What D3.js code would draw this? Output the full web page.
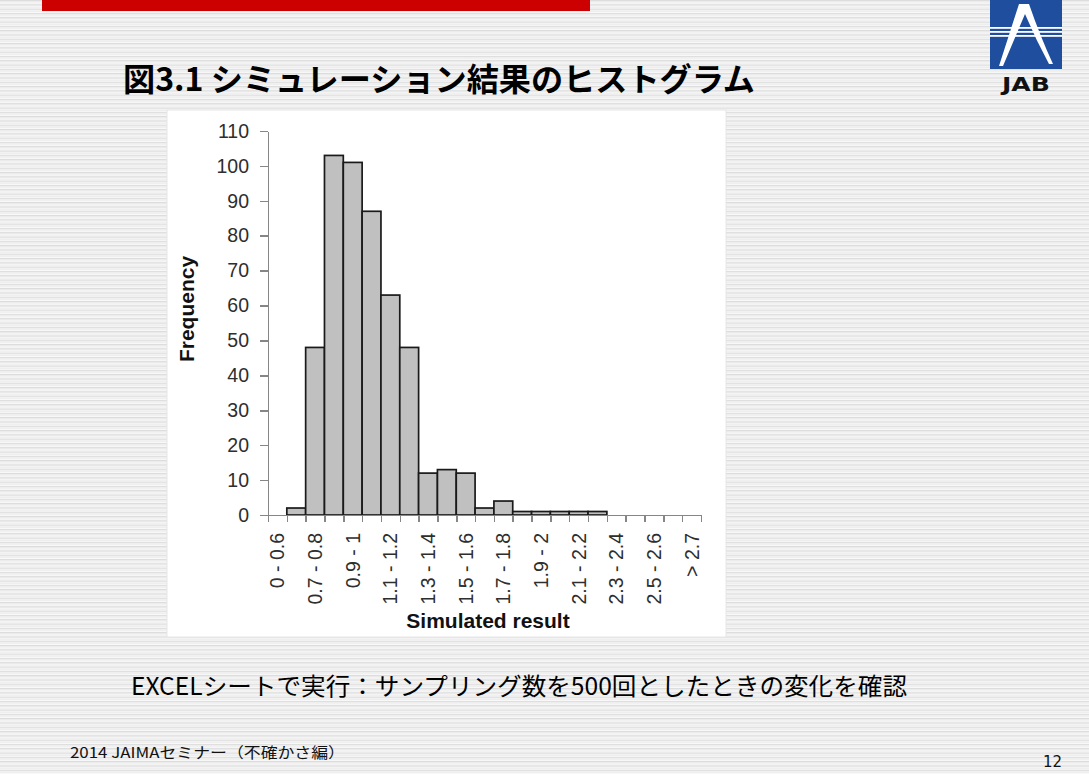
<!DOCTYPE html>
<html lang="ja">
    <head>
        <meta charset="utf-8">
        <title>シミュレーション結果のヒストグラム</title>
        <style type="text/css">
            body {
                margin: 0;
                padding: 0;
                background: #ffffff;
            }
            .axis path, .axis line {
                stroke: #868686;
                stroke-width: 1.5;
                shape-rendering: crispEdges;
            }
            .axis text {
                font-family: "Liberation Sans", Arial, sans-serif;
                font-size: 19.5px;
                fill: #2e2e2e;
            }
        </style>
        <script type="text/javascript" src="https://cdn.jsdelivr.net/npm/d3@7"></script>
    </head>
    <body>
        <script type="text/javascript">
            //data
            var categories = ["0 - 0.6", "0.6 - 0.7", "0.7 - 0.8", "0.8 - 0.9", "0.9 - 1", "1 - 1.1",
                              "1.1 - 1.2", "1.2 - 1.3", "1.3 - 1.4", "1.4 - 1.5", "1.5 - 1.6", "1.6 - 1.7",
                              "1.7 - 1.8", "1.8 - 1.9", "1.9 - 2", "2 - 2.1", "2.1 - 2.2", "2.2 - 2.3",
                              "2.3 - 2.4", "2.4 - 2.5", "2.5 - 2.6", "2.6 - 2.7", "> 2.7"];
            var frequency = [0, 2, 48, 103, 101, 87, 63, 48, 12, 13, 12, 2, 4, 1, 1, 1, 1, 1, 0, 0, 0, 0, 0];
            var yTicks = [0, 10, 20, 30, 40, 50, 60, 70, 80, 90, 100, 110];
            //only every other category gets a label
            var shownLabels = ["0 - 0.6", "0.7 - 0.8", "0.9 - 1", "1.1 - 1.2", "1.3 - 1.4", "1.5 - 1.6",
                               "1.7 - 1.8", "1.9 - 2", "2.1 - 2.2", "2.3 - 2.4", "2.5 - 2.6", "> 2.7"];

            var titleText = "図3.1  シミュレーション結果のヒストグラム";
            var captionText = "EXCELシートで実行：サンプリング数を500回としたときの変化を確認";
            var footerText = "2014 JAIMAセミナー（不確かさ編）";
            var pageNo = "12";

            var W = 1089, H = 774;
            var plot = {left: 268, right: 701, top: 131, bottom: 515};

            var svg = d3.select("body").append("svg")
                        .attr("width", W)
                        .attr("height", H);

            //striped slide background
            var pat = svg.append("defs").append("pattern")
                         .attr("id", "stripes")
                         .attr("patternUnits", "userSpaceOnUse")
                         .attr("width", 8)
                         .attr("height", 4.3);
            pat.append("rect").attr("width", 8).attr("height", 4.3).attr("fill", "#f9f9f9");
            pat.append("rect").attr("y", 0).attr("width", 8).attr("height", 1.3).attr("fill", "#dcdcdc");
            pat.append("rect").attr("y", 2.3).attr("width", 8).attr("height", 0.9).attr("fill", "#ebebeb");

            svg.append("rect")
               .attr("width", W)
               .attr("height", H)
               .attr("fill", "url(#stripes)");

            //red bar at top
            svg.append("rect")
               .attr("x", 42)
               .attr("y", 0)
               .attr("width", 548)
               .attr("height", 11)
               .attr("fill", "#cc0000");

            //JAB logo
            var logo = svg.append("g");
            logo.append("rect")
                .attr("x", 990).attr("y", 0)
                .attr("width", 72).attr("height", 69)
                .attr("fill", "#1f4e9e");
            [27, 31, 35].forEach(function(y) {
                logo.append("rect")
                    .attr("x", 990).attr("y", y)
                    .attr("width", 72).attr("height", 1.8)
                    .attr("fill", "#ffffff");
            });
            logo.append("path")
                .attr("d", "M999,66 L1019,4 L1029,4 Q1040,36 1053,64 L1049,64 Q1036,40 1025,14 L1003,66 Z")
                .attr("fill", "#ffffff");
            logo.append("text")
                .attr("x", 1026)
                .attr("y", 91)
                .attr("text-anchor", "middle")
                .attr("textLength", 48)
                .attr("lengthAdjust", "spacingAndGlyphs")
                .style("font-family", "'DejaVu Sans', sans-serif")
                .style("font-weight", "bold")
                .style("font-size", "20px")
                .attr("fill", "#111111")
                .text("JAB");

            //title
            svg.append("text")
               .attr("x", 123)
               .attr("y", 91)
               .attr("textLength", 632)
               .attr("lengthAdjust", "spacingAndGlyphs")
               .style("font-family", "'Noto Sans CJK JP', sans-serif")
               .style("font-weight", "bold")
               .style("font-size", "32px")
               .attr("fill", "#000000")
               .text(titleText);

            //white chart panel
            svg.append("rect")
               .attr("x", 167)
               .attr("y", 110)
               .attr("width", 559)
               .attr("height", 527)
               .attr("fill", "#ffffff")
               .attr("stroke", "#e6e6e6")
               .attr("stroke-width", 1);

            //scales
            var xScale = d3.scaleBand()
                           .domain(categories)
                           .range([plot.left, plot.right])
                           .padding(0);
            var xEdge = d3.scaleLinear()
                          .domain([0, categories.length])
                          .range([plot.left, plot.right]);
            var yScale = d3.scaleLinear()
                           .domain([0, 110])
                           .range([plot.bottom, plot.top]);

            //bars (empty bins are not drawn)
            var bins = categories.map(function(c, i) { return {cat: c, n: frequency[i]}; })
                                 .filter(function(d) { return d.n > 0; });

            svg.selectAll("rect.bar")
               .data(bins)
               .enter()
               .append("rect")
               .attr("class", "bar")
               .attr("x", function(d) { return xScale(d.cat); })
               .attr("y", function(d) { return yScale(d.n); })
               .attr("width", xScale.bandwidth())
               .attr("height", function(d) { return plot.bottom - yScale(d.n); })
               .attr("fill", "#c0c0c0")
               .attr("stroke", "#1a1a1a")
               .attr("stroke-width", 1.7);

            //Create Y axis
            svg.append("g")
               .attr("class", "axis")
               .attr("transform", "translate(" + plot.left + ",0)")
               .call(d3.axisLeft(yScale)
                       .tickValues(yTicks)
                       .tickSize(8)
                       .tickSizeOuter(0)
                       .tickPadding(11));

            //Create X axis (ticks on bin edges)
            svg.append("g")
               .attr("class", "axis")
               .attr("transform", "translate(0," + plot.bottom + ")")
               .call(d3.axisBottom(xEdge)
                       .tickValues(d3.range(0, categories.length + 1))
                       .tickFormat("")
                       .tickSize(7)
                       .tickSizeOuter(0));

            //x labels, rotated
            var xLab = svg.append("g")
                          .attr("class", "axis")
                          .attr("transform", "translate(0," + plot.bottom + ")")
                          .call(d3.axisBottom(xScale)
                                  .tickValues(shownLabels)
                                  .tickSize(0)
                                  .tickSizeOuter(0));
            xLab.select(".domain").remove();
            xLab.selectAll("text")
                .attr("transform", "rotate(-90)")
                .attr("x", -18)
                .attr("y", 0)
                .attr("dy", "0.36em")
                .attr("text-anchor", "end");

            //axis titles
            svg.append("text")
               .attr("x", 488)
               .attr("y", 628)
               .attr("text-anchor", "middle")
               .style("font-family", "'Liberation Sans', Arial, sans-serif")
               .style("font-weight", "bold")
               .style("font-size", "21px")
               .attr("fill", "#111111")
               .text("Simulated result");

            svg.append("text")
               .attr("text-anchor", "middle")
               .attr("transform", "translate(194,309) rotate(-90)")
               .style("font-family", "'Liberation Sans', Arial, sans-serif")
               .style("font-weight", "bold")
               .style("font-size", "21px")
               .attr("fill", "#111111")
               .text("Frequency");

            //caption
            svg.append("text")
               .attr("x", 131)
               .attr("y", 695)
               .attr("textLength", 776)
               .attr("lengthAdjust", "spacingAndGlyphs")
               .style("font-family", "'Noto Sans CJK JP', sans-serif")
               .style("font-size", "24px")
               .attr("fill", "#000000")
               .text(captionText);

            //footer
            svg.append("text")
               .attr("x", 70)
               .attr("y", 758)
               .attr("textLength", 275)
               .attr("lengthAdjust", "spacingAndGlyphs")
               .style("font-family", "'Noto Sans CJK JP', sans-serif")
               .style("font-size", "15px")
               .attr("fill", "#111111")
               .text(footerText);

            svg.append("text")
               .attr("x", 1062)
               .attr("y", 767)
               .attr("text-anchor", "end")
               .style("font-family", "'DejaVu Sans', sans-serif")
               .style("font-size", "15px")
               .attr("fill", "#111111")
               .text(pageNo);
        </script>
    </body>
</html>
